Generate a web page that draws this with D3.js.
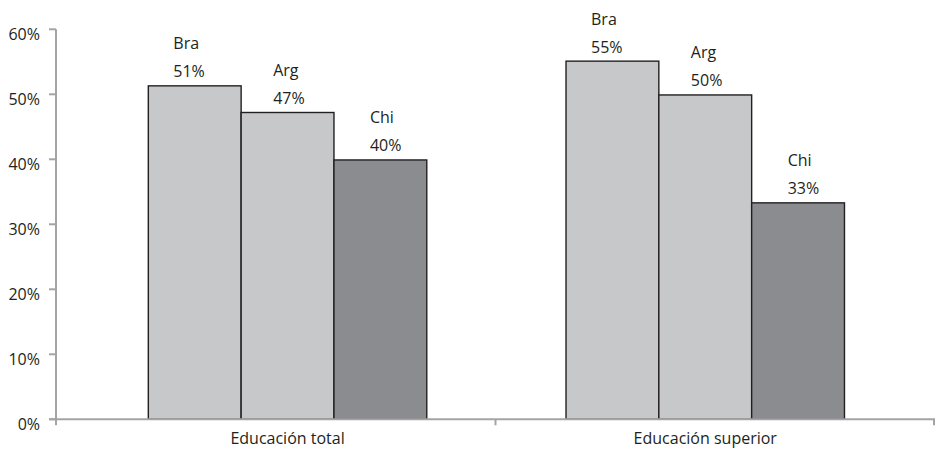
<!DOCTYPE html>
<html><head><meta charset="utf-8">
<script src="https://cdn.jsdelivr.net/npm/d3@7/dist/d3.min.js"></script>
<style>
html,body{margin:0;padding:0;background:#fff;}
text{font-family:"Open Sans",sans-serif;font-size:16px;fill:#231f20;}
</style></head>
<body>
<svg id="chart" width="936" height="449"></svg>
<script>
const categories = ["Educación total", "Educación superior"];
const seriesNames = ["Bra", "Arg", "Chi"];
const braValues = [51.3, 55.1];
const argValues = [47.2, 49.9];
const chiValues = [39.9, 33.3];
const yTicks = [0, 10, 20, 30, 40, 50, 60];

const seriesValues = [braValues, argValues, chiValues];
const fills = ["#c7c8ca", "#c7c8ca", "#8b8c8f"];
const labelDx = [25, 32, 36];

const svg = d3.select("#chart");
const y = d3.scaleLinear().domain([0, 60]).range([419.3, 29.3]);
const xAxisBand = d3.scaleBand().domain(categories).range([56, 935]);
const xGroup = d3.scaleBand().domain(categories).range([78.7, 914.1]).paddingInner(1/3).paddingOuter(1/6);
const xInner = d3.scaleBand().domain(seriesNames).range([0, xGroup.bandwidth()]);

const axisColor = "#a3a4a6";
const x0 = xAxisBand.range()[0];

// bars
categories.forEach((c, ci) => {
  seriesNames.forEach((s, si) => {
    const v = seriesValues[si][ci];
    const bx = xGroup(c) + xInner(s);
    svg.append("rect")
      .attr("x", bx).attr("y", y(v))
      .attr("width", xInner.bandwidth()).attr("height", y(0) - y(v))
      .attr("fill", fills[si]).attr("stroke", "#231f20").attr("stroke-width", 1.4);
    svg.append("text").attr("x", bx + labelDx[si]).attr("y", y(v) - 36.5).text(s);
    svg.append("text").attr("x", bx + labelDx[si]).attr("y", y(v) - 8.5).text(Math.round(v) + "%");
  });
});

// y axis
svg.append("line").attr("x1", x0).attr("x2", x0).attr("y1", y(60)).attr("y2", y(0))
  .attr("stroke", axisColor).attr("stroke-width", 2);
yTicks.forEach(t => {
  svg.append("line").attr("x1", x0 - 7).attr("x2", x0).attr("y1", y(t)).attr("y2", y(t))
    .attr("stroke", axisColor).attr("stroke-width", 2);
  svg.append("text").attr("x", 40).attr("y", y(t) + 10.5).attr("text-anchor", "end").text(t + "%");
});

// x axis
svg.append("line").attr("x1", x0 - 7).attr("x2", xAxisBand.range()[1]).attr("y1", y(0)).attr("y2", y(0))
  .attr("stroke", axisColor).attr("stroke-width", 2);
const bounds = categories.map(c => xAxisBand(c)).concat([xAxisBand.range()[1] - 1]);
bounds.forEach(bx => {
  svg.append("line").attr("x1", bx).attr("x2", bx).attr("y1", y(0)).attr("y2", y(0) + 6)
    .attr("stroke", axisColor).attr("stroke-width", 2);
});
categories.forEach(c => {
  svg.append("text").attr("x", xGroup(c) + xGroup.bandwidth() / 2).attr("y", 444)
    .attr("text-anchor", "middle").text(c);
});
</script>
</body></html>
